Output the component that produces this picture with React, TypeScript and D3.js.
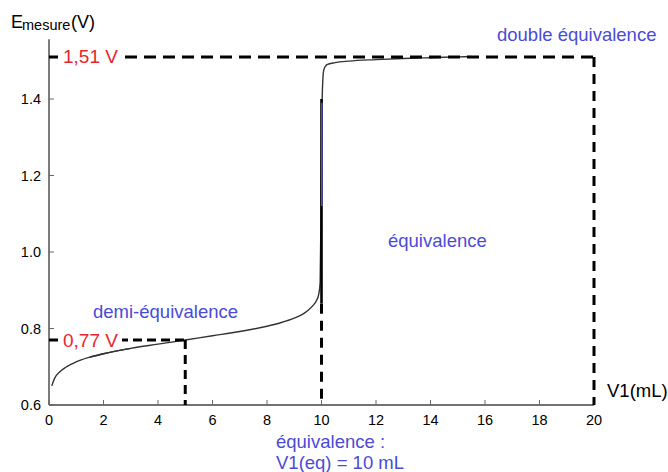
import React from "react";
import * as d3 from "d3";

// Titration curve (V in mL, E in V)
const volumes = [0.1, 0.2, 0.4, 0.6, 0.8, 1, 1.5, 2, 3, 4, 5, 6, 7, 8, 8.5, 9, 9.3, 9.5, 9.7, 9.8, 9.9, 9.95, 9.98, 10.02, 10.08, 10.15, 10.2, 10.5, 11, 12, 13, 14, 15, 15.5];
const potentials = [0.650, 0.669, 0.687, 0.698, 0.706, 0.713, 0.725, 0.734, 0.748, 0.759, 0.770, 0.781, 0.792, 0.806, 0.815, 0.827, 0.837, 0.847, 0.861, 0.871, 0.890, 0.920, 1.100, 1.390, 1.475, 1.486, 1.490, 1.495, 1.499, 1.503, 1.506, 1.508, 1.510, 1.511];

const xTicks = [0, 2, 4, 6, 8, 10, 12, 14, 16, 18, 20];
const yTicks = [0.6, 0.8, 1.0, 1.2, 1.4];
const yTickLabels = ["0.6", "0.8", "1.0", "1.2", "1.4"];

const halfEqV = 5;
const halfEqE = 0.77;
const eqV = 10;
const doubleEqV = 20;
const doubleEqE = 1.51;

const FONT = "'Liberation Sans', Arial, sans-serif";
const BLUE = "#4b4bd6";
const RED = "#e8252d";

export default function App() {
  const x = d3.scaleLinear().domain([0, 20]).range([49, 594]);
  const y = d3.scaleLinear().domain([0.6, 1.6]).range([405, 22.5]);
  const pts: [number, number][] = volumes.map((v, i) => [v, potentials[i]]);
  const line = d3
    .line<[number, number]>()
    .x((d) => x(d[0]))
    .y((d) => y(d[1]))
    .curve(d3.curveMonotoneX);

  const dashH = "12 7";
  const dashV = "10 7";

  return (
    <svg
      width={668}
      height={472}
      style={{ position: "absolute", left: 0, top: 0, background: "#fff" }}
      fontFamily={FONT}
    >
      {/* axes */}
      <line x1={x(0)} x2={x(0)} y1={y(0.6)} y2={y(1.556)} stroke="#444" strokeWidth={1.4} />
      <line x1={x(0)} x2={x(20)} y1={y(0.6)} y2={y(0.6)} stroke="#444" strokeWidth={1.4} />
      {xTicks.map((t) => (
        <g key={"x" + t}>
          <line x1={x(t)} x2={x(t)} y1={y(0.6)} y2={y(0.6) - 5} stroke="#666" strokeWidth={1} />
          <text x={x(t)} y={425} textAnchor="middle" fontSize={14.5} fill="#000">
            {t}
          </text>
        </g>
      ))}
      {yTicks.map((t, i) => (
        <g key={"y" + t}>
          <line x1={x(0)} x2={x(0) + 5} y1={y(t)} y2={y(t)} stroke="#666" strokeWidth={1} />
          <text x={41} y={y(t) + 5} textAnchor="end" fontSize={14.5} fill="#000">
            {yTickLabels[i]}
          </text>
        </g>
      ))}

      {/* axis titles */}
      <text x={11} y={28} fontSize={18} fill="#000">
        E
      </text>
      <text x={22} y={30} fontSize={14.5} fill="#000">
        mesure
      </text>
      <text x={71} y={28} fontSize={18} fill="#000">
        (V)
      </text>
      <text x={607} y={397} fontSize={18.5} fill="#000">
        V1(mL)
      </text>

      {/* curve */}
      <path d={line(pts) ?? ""} fill="none" stroke="#333" strokeWidth={1.4} />

      {/* vertical jump overlay */}
      <line x1={x(eqV)} x2={x(eqV)} y1={y(0.865)} y2={y(1.4)} stroke="#000" strokeWidth={2.6} />
      <line x1={x(eqV) + 0.3} x2={x(eqV) + 0.3} y1={y(1.39)} y2={y(1.12)} stroke={BLUE} strokeWidth={1.6} />

      {/* guide lines */}
      <line x1={x(0)} x2={x(doubleEqV)} y1={y(doubleEqE)} y2={y(doubleEqE)} stroke="#000" strokeWidth={3} strokeDasharray={dashH} />
      <line x1={x(doubleEqV)} x2={x(doubleEqV)} y1={y(doubleEqE)} y2={y(0.6)} stroke="#000" strokeWidth={3} strokeDasharray={dashV} />
      <line x1={x(0)} x2={x(halfEqV)} y1={y(halfEqE)} y2={y(halfEqE)} stroke="#000" strokeWidth={3} strokeDasharray="9 5" />
      <line x1={x(halfEqV)} x2={x(halfEqV)} y1={y(halfEqE)} y2={y(0.6)} stroke="#000" strokeWidth={3} strokeDasharray="9 6" />
      <line x1={x(eqV)} x2={x(eqV)} y1={y(0.865)} y2={y(0.6)} stroke="#000" strokeWidth={3} strokeDasharray={dashV} />

      {/* value labels */}
      <rect x={58} y={y(doubleEqE) - 11} width={65} height={22} fill="#fff" />
      <text x={63} y={63} fontSize={19} fill={RED}>
        1,51 V
      </text>
      <rect x={58} y={y(halfEqE) - 9} width={64} height={17} fill="#fff" />
      <path d={line(pts.filter((p) => p[0] >= 1.5 && p[0] <= 3)) ?? ""} fill="none" stroke="#333" strokeWidth={1.4} />
      <text x={63} y={347} fontSize={19} fill={RED}>
        0,77 V
      </text>

      {/* annotations */}
      <text x={93} y={318} fontSize={18.5} fill={BLUE}>
        demi-équivalence
      </text>
      <text x={388} y={247} fontSize={18.5} fill={BLUE}>
        équivalence
      </text>
      <text x={497} y={41} fontSize={18.5} fill={BLUE}>
        double équivalence
      </text>
      <text x={276} y={448} fontSize={18.5} fill={BLUE}>
        équivalence :
      </text>
      <text x={276} y={469} fontSize={18.5} fill={BLUE}>
        V1(eq) = 10 mL
      </text>
    </svg>
  );
}
